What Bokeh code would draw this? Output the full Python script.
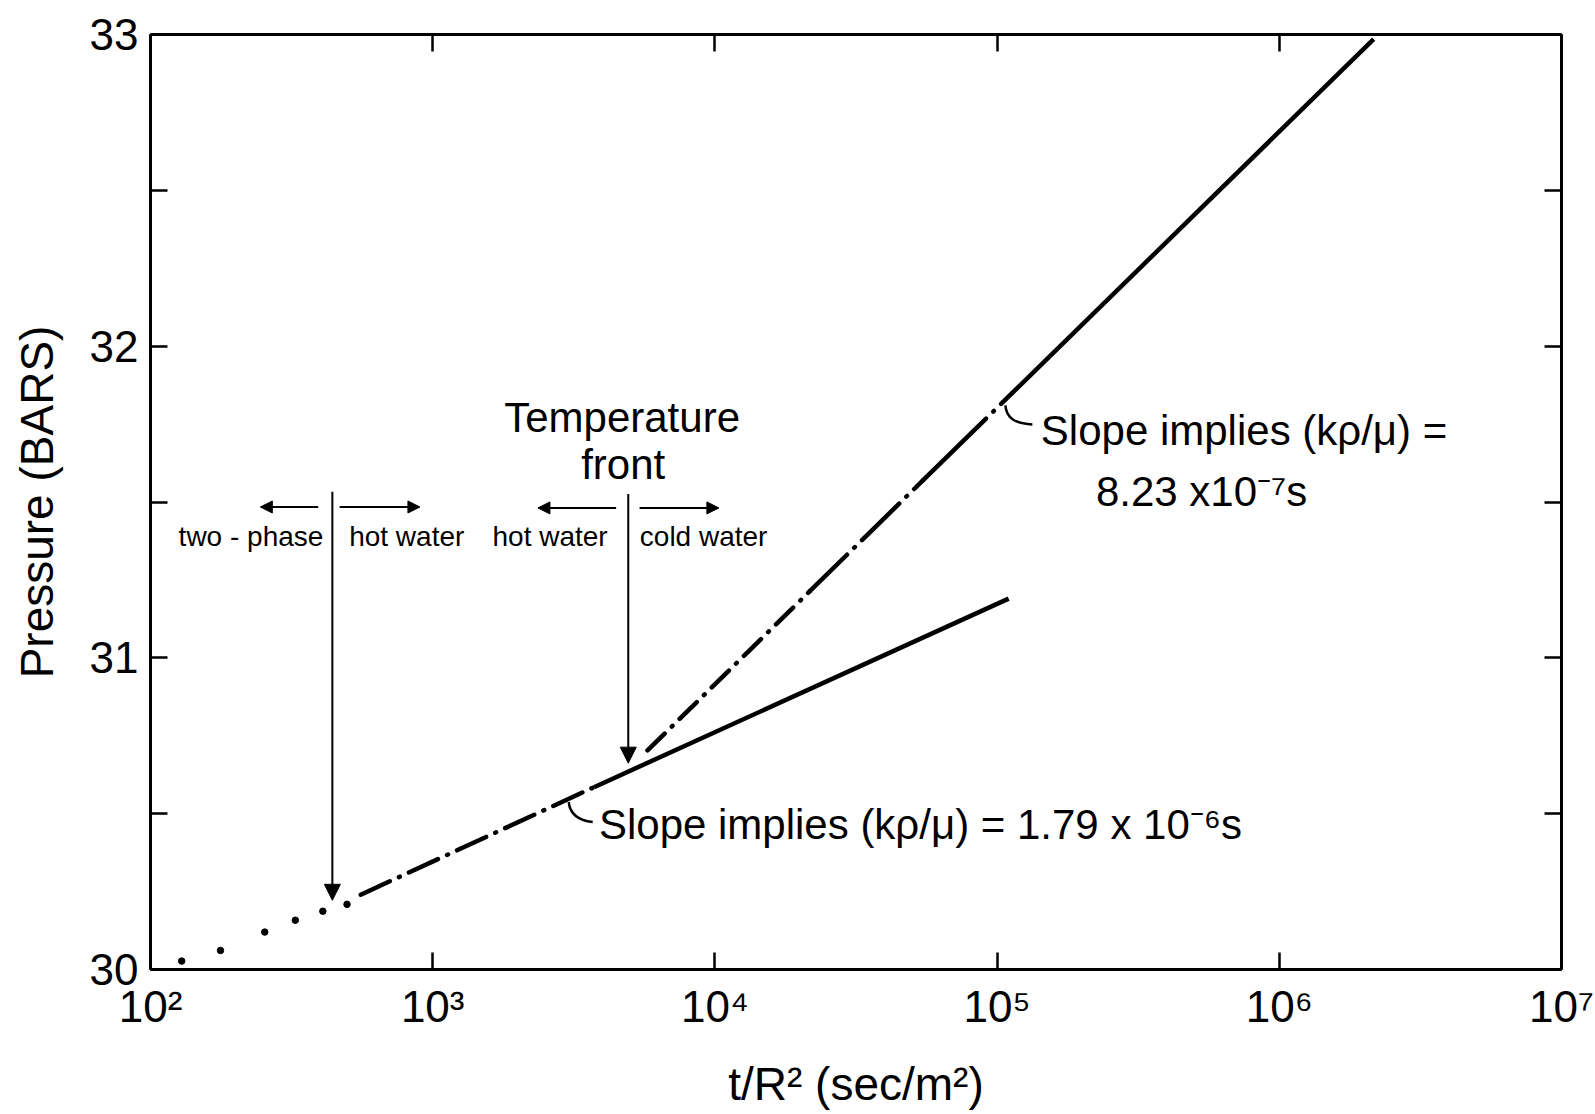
from bokeh.plotting import figure
from bokeh.models import (Range1d, FixedTicker, LogAxis, LinearAxis, Label, Arrow,
                          NormalHead)
from bokeh.embed import file_html
from bokeh.resources import INLINE

# ---- data ----
x_tick_values = [1e2, 1e3, 1e4, 1e5, 1e6, 1e7]
x_tick_labels = ["10²", "10³", "10⁴", "10⁵", "10⁶", "10⁷"]
y_tick_values = [30, 31, 32, 33]
y_minor_ticks = [30.5, 31.5, 32.5]

# early-time measured points (dots)
early_t = [129, 177, 254, 326, 408, 497]
early_p = [30.027, 30.061, 30.120, 30.158, 30.187, 30.209]

# lower semilog straight line (hot water), dash-dot then solid
lower_dd_t = [556, 3730]
lower_dd_p = [30.240, 30.585]
lower_solid_t = [3730, 109900]
lower_solid_p = [30.585, 31.190]

# upper semilog straight line (cold water), dash-dot then solid
upper_dd1_t = [5770, 21700]
upper_dd1_p = [30.703, 31.214]
upper_dd2_t = [21700, 54700]
upper_dd2_p = [31.214, 31.570]
upper_dd3_t = [54700, 113000]
upper_dd3_p = [31.570, 31.849]
upper_solid_t = [113000, 2160000]
upper_solid_p = [31.849, 32.985]

FONT = "Liberation Sans"

p = figure(width=1595, height=1114, x_axis_type="log",
           x_range=Range1d(1e2, 1e7), y_range=Range1d(30, 33),
           output_backend="svg", toolbar_location=None,
           min_border_left=150, min_border_right=34, min_border_top=34,
           min_border_bottom=145)
p.outline_line_color = None
p.xgrid.visible = False
p.ygrid.visible = False
p.background_fill_color = "white"
p.border_fill_color = "white"

# bottom axis
xa = p.xaxis[0]
xa.ticker = FixedTicker(ticks=x_tick_values, minor_ticks=[])
xa.major_label_overrides = {v: l for v, l in zip(x_tick_values, x_tick_labels)}
xa.axis_label = "t/R² (sec/m²)"
# left axis
ya = p.yaxis[0]
ya.ticker = FixedTicker(ticks=y_tick_values, minor_ticks=y_minor_ticks)
ya.axis_label = "Pressure (BARS)"

for ax in (xa, ya):
    ax.axis_line_width = 3
    ax.axis_line_color = "black"
    ax.major_tick_in = 17
    ax.major_tick_out = 0
    ax.minor_tick_in = 17
    ax.minor_tick_out = 0
    ax.major_tick_line_width = 2.5
    ax.minor_tick_line_width = 2.5
    ax.major_tick_line_color = "black"
    ax.minor_tick_line_color = "black"
    ax.major_label_text_font = FONT
    ax.major_label_text_font_size = "44px"
    ax.major_label_text_color = "black"
    ax.axis_label_text_font = FONT
    ax.axis_label_text_font_size = "46px"
    ax.axis_label_text_font_style = "normal"
    ax.axis_label_text_color = "black"

xa.major_label_standoff = 12
xa.axis_label_standoff = 24
ya.major_label_standoff = 12
ya.axis_label_standoff = 24

top = LogAxis(ticker=FixedTicker(ticks=x_tick_values, minor_ticks=[]),
              major_label_text_font_size="1px", major_label_text_alpha=0,
              axis_line_width=3, major_label_standoff=0,
              major_tick_in=17, major_tick_out=0, minor_tick_in=0, minor_tick_out=0,
              major_tick_line_width=2.5)
right = LinearAxis(ticker=FixedTicker(ticks=y_tick_values, minor_ticks=y_minor_ticks),
                   major_label_text_font_size="1px", major_label_text_alpha=0,
                   axis_line_width=3, major_label_standoff=0,
                   major_tick_in=17, major_tick_out=0, minor_tick_in=17, minor_tick_out=0,
                   major_tick_line_width=2.5, minor_tick_line_width=2.5)
p.add_layout(top, "above")
p.add_layout(right, "right")

# data marks
p.scatter(early_t, early_p, size=6.5, color="black")
LW = 4.5
p.line(lower_dd_t, lower_dd_p, line_width=LW, color="black",
       line_dash="32 10 1 10", line_cap="round")
p.line(lower_solid_t, lower_solid_p, line_width=LW, color="black")
p.line(upper_dd1_t, upper_dd1_p, line_width=LW, color="black",
       line_dash="24 10 1 10", line_cap="round")
p.line(upper_dd2_t, upper_dd2_p, line_width=LW, color="black",
       line_dash="52 10 1 10", line_cap="round")
p.line(upper_dd3_t, upper_dd3_p, line_width=LW, color="black",
       line_dash="88 10 1 10", line_cap="round")
p.line(upper_solid_t, upper_solid_p, line_width=LW, color="black")

# arrows
def arrow(x0, y0, x1, y1, size, lw):
    p.add_layout(Arrow(end=NormalHead(size=size, fill_color="black", line_color="black"),
                       x_start=x0, y_start=y0, x_end=x1, y_end=y1,
                       line_width=lw, line_color="black"))

arrow(441, 31.533, 441, 30.222, 16, 2)
arrow(4932, 31.526, 4932, 30.662, 16, 2)
arrow(393, 31.484, 245, 31.484, 12, 2)
arrow(468, 31.484, 901, 31.484, 12, 2)
arrow(4467, 31.481, 2360, 31.481, 12, 2)
arrow(5408, 31.481, 10330, 31.481, 12, 2)

# leader hooks
p.bezier(x0=[106990, 3034], y0=[31.810, 30.537], x1=[133350, 3690], y1=[31.749, 30.473],
         cx0=[107880, 3059], cy0=[31.768, 30.505], cx1=[116090, 3237], cy1=[31.752, 30.479],
         line_width=2.5, line_color="black")

def label(x, y, text, size, align="center"):
    p.add_layout(Label(x=x, y=y, text=text, text_font=FONT, text_font_size=size,
                       text_align=align, text_baseline="middle", text_color="black"))

label(227, 31.390, "two - phase", "28px")
label(809, 31.390, "hot water", "28px")
label(2606, 31.390, "hot water", "28px")
label(9120, 31.390, "cold water", "28px")
label(4690, 31.771, "Temperature", "42px")
label(4730, 31.621, "front", "42px")
label(142900, 31.728, "Slope implies (kρ/μ) =", "42px", "left")
label(223900, 31.533, "8.23 x10⁻⁷s", "42px", "left")
label(3882, 30.466, "Slope implies (kρ/μ) = 1.79 x 10⁻⁶s", "42px", "left")

open("out.html", "w").write(file_html(p, INLINE))
